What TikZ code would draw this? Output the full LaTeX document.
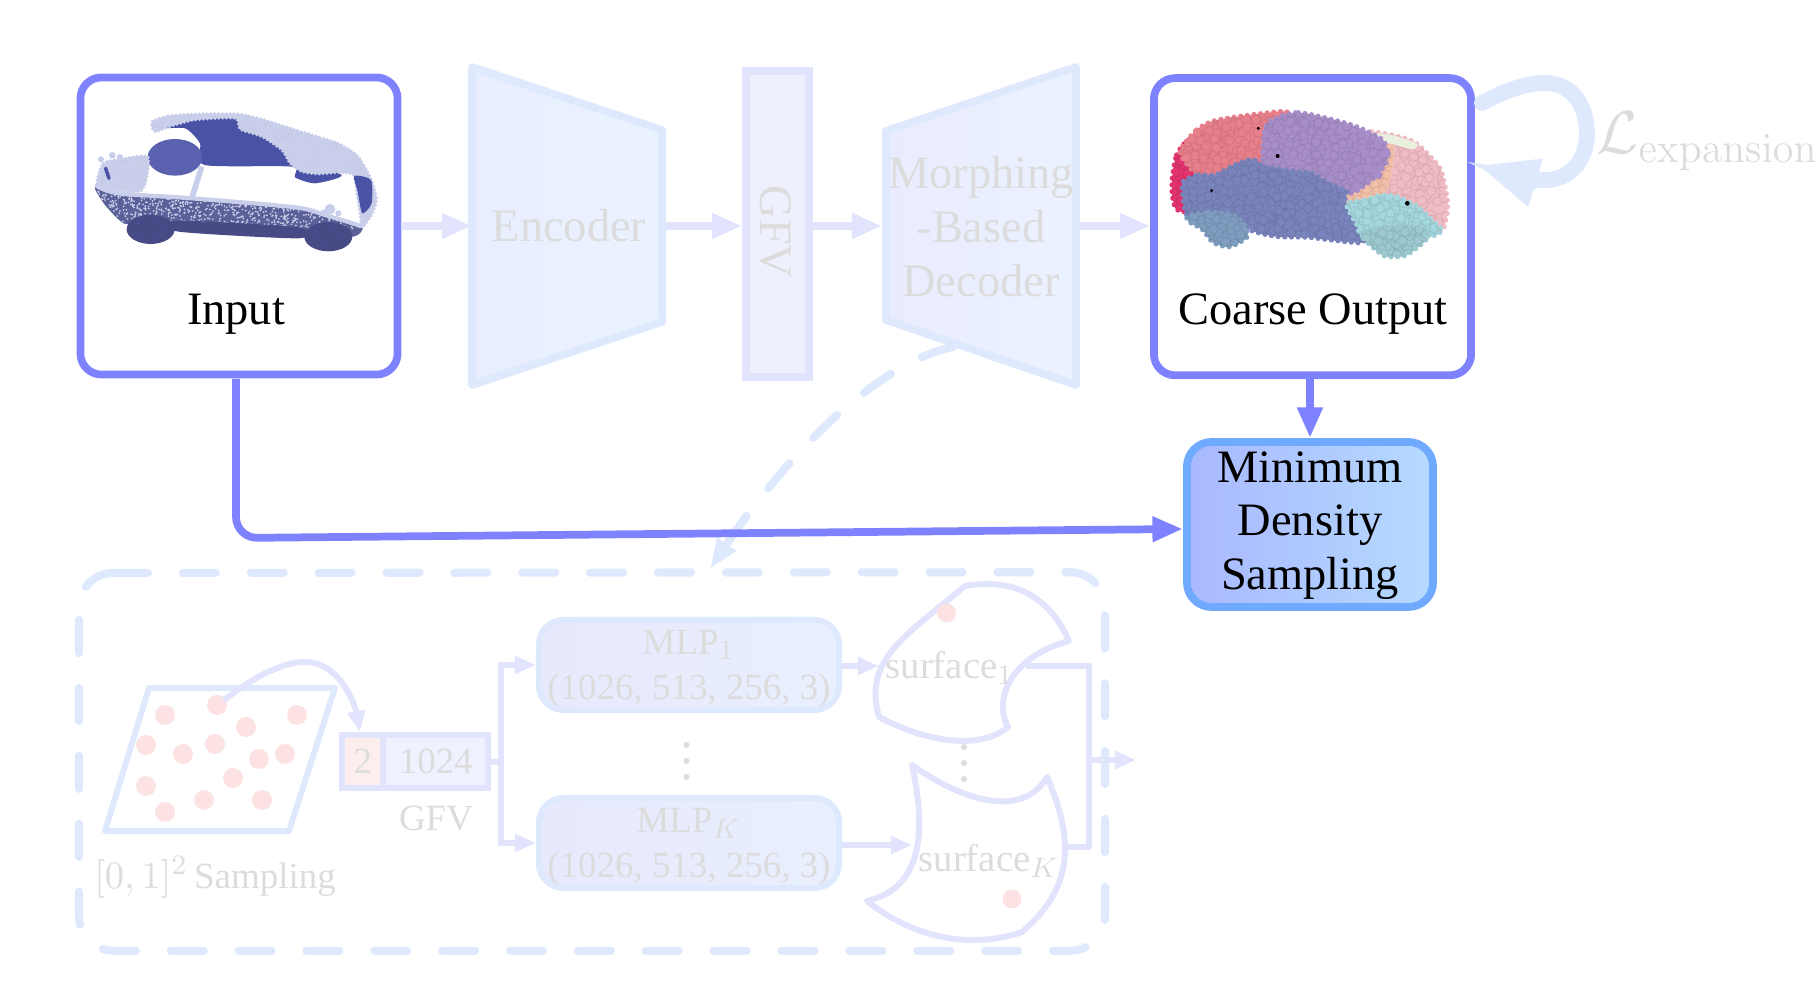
\documentclass[tikz,border=0pt]{standalone}
\usepackage{amsmath}
\usepackage{amsfonts}
\usepackage[no-math]{fontspec}
\setmainfont{Liberation Serif}
\usetikzlibrary{arrows.meta,positioning}
\DeclareMathSizes{10.5}{10.5}{8}{6}

\definecolor{boxBlue}{HTML}{7F82FF}
\definecolor{paleBlue}{HTML}{DFE9FD}
\definecolor{paleViolet}{HTML}{E2E3FC}
\definecolor{fadedText}{HTML}{DCDCDC}
\definecolor{dotPink}{HTML}{FCE2E2}
\definecolor{encoderFill}{HTML}{E8EEFE}
\definecolor{decoderFill}{HTML}{E9ECFE}
\definecolor{netRight}{HTML}{EBF2FF}
\definecolor{carLight}{HTML}{C9CEEA}
\definecolor{carBlue}{HTML}{4A52A6}
\definecolor{carSeat}{HTML}{5A62B0}
\definecolor{carBody}{HTML}{5C6098}
\definecolor{carDark}{HTML}{474A84}
\definecolor{partCrimson}{HTML}{E2336F}
\definecolor{partSalmon}{HTML}{E8808B}
\definecolor{partPurple}{HTML}{A88EC8}
\definecolor{partPink}{HTML}{F0BCC4}
\definecolor{partPeach}{HTML}{F2BFA8}
\definecolor{partGreen}{HTML}{E9F0DE}
\definecolor{partSlate}{HTML}{7A84BC}
\definecolor{partSteel}{HTML}{7F9DBF}
\definecolor{partCyan}{HTML}{A5D7DE}
\definecolor{partTeal}{HTML}{9CC8CF}
\definecolor{samplingEdge}{HTML}{6FAAFF}
\definecolor{samplingLeft}{HTML}{A9B8FF}
\definecolor{samplingRight}{HTML}{B5DAFF}

\tikzset{
    bigText/.style={font=\fontsize{13.2}{15.3}\selectfont},
    smallText/.style={font=\fontsize{10.5}{12.8}\selectfont},
    mainBox/.style={draw=boxBlue, line width=2.2pt, fill=white, rounded corners=6pt, inner sep=0pt, minimum width=3.17cm, minimum height=2.97cm},
    mainArrow/.style={draw=boxBlue, line width=2.2pt, -{Triangle[length=8.7pt,width=6.8pt]}},
    softArrow/.style={draw=paleViolet, line width=2.2pt, -{Triangle[length=8.5pt,width=6.8pt]}},
    thinArrow/.style={draw=paleViolet, line width=1.7pt, -{Triangle[length=6pt,width=4.9pt]}},
    thinLine/.style={draw=paleViolet, line width=1.7pt},
    netShape/.style={draw=paleBlue, line width=2.2pt, line join=round, left color=#1, right color=netRight},
    mlpBox/.style={draw=paleBlue, line width=1.7pt, left color=paleViolet!80!white, right color=paleBlue!70!white, rounded corners=7pt, text=fadedText, smallText, align=center, inner sep=0pt, minimum width=3cm, minimum height=0.9cm},
    surfaceLine/.style={draw=paleViolet, line width=1.7pt, line join=round},
    cell/.style={draw=paleViolet, line width=1.7pt, text=fadedText, smallText, inner sep=0pt, minimum height=0.53cm},
    sampleDot/.style={fill=dotPink},
    softDash/.style={draw=paleBlue, line width=2.3pt, line cap=round, dash pattern=on 9.4pt off 9.9pt},
}

% one coloured patch of a point cloud: colour, outline, box of the points
\def\bubbleR{13}
\def\bubbleN{60}
\def\bubbleEdge{88}
\def\beadW{1.8pt}
\def\beadGap{2.2pt}
\newcommand{\carPatch}[6]{
    \fill[#1] plot[smooth cycle, tension=0.4] coordinates {#2};
    \draw[#1, line width=\beadW, line cap=round, dash pattern=on 0pt off \beadGap] plot[smooth cycle, tension=0.4] coordinates {#2};
    \begin{scope}
        \clip plot[smooth cycle, tension=0.4] coordinates {#2};
        \foreach \n in {1,...,\bubbleN} {
            \draw[#1!\bubbleEdge!black, fill=#1, line width=0.2pt] ({#3+rnd*(#5-#3)},{#4+rnd*(#6-#4)}) circle (\bubbleR);
        }
    \end{scope}
}

\begin{document}
\begin{tikzpicture}[x=0.01cm,y=-0.01cm]

    \pgfmathsetseed{7}
    \useasboundingbox (0,0) rectangle (1820,1004);

    %%%% Upper row (faded part)

    % Encoder
    \draw[netShape=encoderFill] (472,67) -- (662,130) -- (662,322) -- (472,385) -- cycle;
    \coordinate (encoderIn) at (472,226);
    \coordinate (encoderOut) at (666,226);
    \node[bigText, text=fadedText] (encoderLabel) at (569,226) {Encoder};

    % GFV bar
    \node[draw=paleViolet, line width=2.2pt, fill=paleViolet!55!white, minimum width=0.63cm, minimum height=3.06cm, inner sep=0pt] (gfvBar) at (777.5,224) {};
    \node[bigText, text=fadedText, rotate=-90] (gfvLabel) at (776,232) {GFV};

    % Decoder
    \draw[netShape=decoderFill] (886,131) -- (1076,67) -- (1076,385) -- (886,320) -- cycle;
    \coordinate (decoderIn) at (882,226);
    \coordinate (decoderOut) at (1080,226);
    \coordinate (decoderFoot) at (953,347);
    \node[bigText, text=fadedText, align=center] (decoderLabel) at (981,226.5) {Morphing\\-Based\\Decoder};

    %%%% Input and coarse output boxes
    \node[mainBox] (inputBox) at (239,226) {};
    \node[mainBox] (coarseBox) at (1312.5,226.7) {};
    \node[bigText] (inputLabel) at (236,314) {Input};
    \node[bigText] (coarseLabel) at (1313,314.5) {Coarse Output};

    % Faded arrows of the row
    \draw[softArrow] (inputBox.east |- encoderIn) -- (encoderIn);
    \draw[softArrow] (encoderOut) -- (gfvBar.west |- encoderOut);
    \draw[softArrow] (gfvBar.east |- decoderIn) -- (decoderIn);
    \draw[softArrow] (decoderOut) -- (coarseBox.west |- decoderOut);

    % Input car
    \begin{scope}[shift={(85,100)},scale=0.3333]
        \fill[carBlue] plot[smooth cycle, tension=0.4] coordinates {(210,85) (300,85) (345,130) (358,195) (620,200) (630,232) (690,250) (770,225) (640,170) (460,60) (330,45) (215,60)};
        \fill[carSeat] (270,172) ellipse (82 and 55);
        \def\bubbleR{9}
        \def\bubbleN{120}
        \def\bubbleEdge{98}
        \def\beadW{0.9pt}
        \def\beadGap{1.1pt}
        \carPatch{carLight}{(200,65) (250,48) (330,42) (460,42) (540,60) (640,92) (760,130) (820,170) (860,240) (875,300) (860,345) (830,385) (826,350) (815,280) (805,225) (760,218) (700,222) (650,215) (615,190) (590,150) (530,110) (465,88) (450,55) (330,60) (260,78) (210,95)}{195}{35}{875}{385}
        \fill[carBlue] plot[smooth cycle, tension=0.4] coordinates {(808,228) (858,240) (860,310) (832,340) (818,275)};
        \def\bubbleN{30}
        \carPatch{carLight}{(35,250) (55,190) (120,175) (190,172) (170,272) (60,265)}{30}{165}{195}{280}
        \fill[carLight] (48,178) circle (9) (82,166) circle (10) (105,172) circle (10) (68,190) circle (9) (92,190) circle (9);
        \draw[carBlue, line width=1pt, line cap=round] (62,205) -- (72,235);
        \draw[carLight, line width=1.6pt] (350,200) -- (322,290);
        \fill[carBody] plot[smooth cycle, tension=0.4] coordinates {(30,262) (100,280) (320,295) (630,320) (720,345) (830,378) (805,410) (650,395) (270,382) (170,372) (115,370) (60,315)};
        \begin{scope}
            \clip plot[smooth cycle, tension=0.4] coordinates {(30,262) (100,280) (320,295) (630,320) (720,345) (830,378) (805,410) (650,395) (270,382) (170,372) (115,370) (60,315)};
            \foreach \n in {1,...,1100} {
                \fill[carLight] ({30+rnd*800},{262+rnd*130}) circle (3);
            }
        \end{scope}
        \draw[carLight, line width=1.2pt, line cap=round] plot[smooth] coordinates {(35,258) (100,280) (320,295) (630,322) (720,345) (828,378)};
        \fill[carLight] (735,328) circle (16) (715,338) circle (9) (760,340) circle (9);
        \fill[carDark] plot[smooth cycle, tension=0.4] coordinates {(275,362) (640,382) (642,415) (280,395)};
        \fill[carDark] (197,388) ellipse (72 and 44);
        \fill[carDark] (730,410) ellipse (72 and 44);
        \foreach \wx/\wy in {160/370,205/365,240/390,205/412,170/400,700/420,728/437,770/410,735/392,695/395} {
            \fill[carBlue] (\wx,\wy) circle (4);
        }
    \end{scope}

    % Coarse output car
    \begin{scope}[shift={(1165,100)},scale=0.3333]
        \def\bubbleR{14}
        \def\bubbleEdge{90}
        \def\beadW{1.5pt}
        \def\beadGap{1.9pt}
        \def\bubbleN{70}
        \carPatch{partCrimson}{(22,235) (35,165) (70,120) (120,120) (110,210) (90,250) (85,295) (60,335) (32,325) (22,285)}{20}{110}{120}{340}
        \def\bubbleN{240}
        \carPatch{partSalmon}{(45,155) (95,90) (150,62) (280,42) (370,38) (350,120) (320,230) (250,250) (190,250) (130,240) (85,215)}{40}{35}{375}{250}
        \carPatch{partPink}{(610,95) (680,105) (750,128) (825,205) (848,310) (835,385) (790,410) (720,350) (620,320) (540,320) (560,262) (625,235) (650,170) (640,120)}{535}{90}{850}{410}
        \def\bubbleN{70}
        \carPatch{partPeach}{(570,130) (680,140) (670,240) (640,300) (545,310) (560,250)}{540}{125}{685}{315}
        \fill[partGreen] plot[smooth cycle, tension=0.4] coordinates {(610,98) (680,105) (755,130) (745,148) (680,132) (640,122)};
        \def\bubbleN{300}
        \carPatch{partPurple}{(312,65) (400,38) (560,75) (655,122) (665,185) (625,235) (565,278) (500,280) (400,260) (300,230) (295,115)}{285}{35}{675}{285}
        \foreach \bx/\by in {640/125,665/160,610/205,640/225,585/235,600/160,575/260} {
            \fill[partPurple] (\bx,\by) circle (13);
        }
        \def\bubbleN{420}
        \carPatch{partSlate}{(55,245) (100,225) (150,225) (215,192) (265,178) (300,200) (400,215) (440,220) (500,255) (545,272) (540,300) (560,340) (580,385) (592,428) (430,412) (340,410) (260,392) (215,350) (130,345) (70,352) (55,300)}{50}{175}{600}{430}
        \def\bubbleN{120}
        \carPatch{partSteel}{(68,348) (130,338) (205,345) (242,380) (245,412) (195,440) (145,428) (112,388) (72,365)}{65}{335}{250}{445}
        \def\bubbleN{190}
        \carPatch{partCyan}{(545,312) (600,300) (650,285) (700,292) (760,322) (800,360) (832,392) (790,412) (770,400) (600,410) (575,372)}{540}{280}{835}{415}
        \def\bubbleN{140}
        \carPatch{partTeal}{(588,402) (640,385) (720,378) (782,385) (782,420) (722,466) (660,468) (612,432)}{585}{375}{785}{470}
        \fill[black] (727,310) circle (7) (338,168) circle (6) (280,85) circle (5) (140,272) circle (5);
    \end{scope}

    %%%% Lower part (faded part)

    % Dashed arrow from the decoder to the patch box
    \coordinate (patchTop) at (710,569);
    \draw[softDash, -{Triangle[length=8.5pt,width=6pt]}] (decoderFoot) .. controls (880,362) and (790,450) .. (patchTop);

    % Dashed box
    \node[minimum width=10.24cm, minimum height=3.77cm, inner sep=0pt] (patchBox) at (592,761.5) {};
    \coordinate (patchStart) at (115,573);
    \draw[softDash, rounded corners=10pt] (patchStart) -- (patchBox.north east) -- (patchBox.south east) -- (patchBox.south west) -- (patchBox.north west) -- (patchStart);

    % Square of samples
    \draw[draw=paleBlue, line width=1.7pt, line join=round] (149,688) -- (335,688) -- (289,831) -- (105,831) -- cycle;
    \foreach \dx/\dy in {165/715,217/705,246/727,297/715,146/745,183/754,215/744,259/759,285/754,233/778,146/786,204/800,262/800,165/812} {
        \fill[sampleDot] (\dx,\dy) circle (10);
    }
    \node[smallText, text=fadedText] (samplingLabel) at (215,877) {$[0,1]^2$\,Sampling};

    % GFV cells
    \node[cell, fill=dotPink!60!white, minimum width=0.415cm] (cellTwo) at (362.75,761.5) {2};
    \node[cell, fill=paleViolet!50!white, minimum width=1.045cm] (cellGfv) at (435.75,761.5) {1024};
    \node[smallText, text=fadedText] (cellLabel) at (436,819) {GFV};
    \coordinate (sampleStart) at (224,700);
    \coordinate (sampleEnd) at (360,732);
    \draw[thinArrow] (sampleStart) .. controls (250,680) and (280,662) .. (305,662) .. controls (340,662) and (355,705) .. (sampleEnd);

    % MLPs
    \node[mlpBox] (mlpOne) at (689,665) {};
    \node[mlpBox] (mlpK) at (689,843) {};
    \node[smallText, text=fadedText, align=center] (mlpOneLabel) at (689,668.5) {MLP$_1$\\(1026, 513, 256, 3)};
    \node[smallText, text=fadedText, align=center] (mlpKLabel) at (689,846.5) {MLP$_K$\\(1026, 513, 256, 3)};
    \coordinate (gfvJoint) at (501,762);
    \draw[thinLine] (cellGfv.east) -- (gfvJoint);
    \draw[thinArrow] (gfvJoint) |- (mlpOne.west);
    \draw[thinArrow] (gfvJoint) |- (mlpK.west);
    \foreach \vy in {745,761,777} {
        \fill[fadedText] (686.5,\vy) circle (3);
        \fill[fadedText] (964,\vy+2) circle (3);
    }

    % Surfaces
    \draw[surfaceLine] (965,586) .. controls (1018,577) and (1051,600) .. (1069,641) .. controls (1010,657) and (993,700) .. (1008,727) .. controls (981,750) and (928,743) .. (879,717) .. controls (863,660) and (904,637) .. (965,586) -- cycle;
    \draw[surfaceLine] (912,765) .. controls (961,800) and (1022,820) .. (1047,777) .. controls (1079,850) and (1067,893) .. (1022,932) .. controls (969,950) and (912,937) .. (867,901) .. controls (928,887) and (924,820) .. (912,765) -- cycle;
    \fill[sampleDot] (946.5,613) circle (9.5);
    \fill[sampleDot] (1012,899) circle (9.5);
    \node[text=fadedText, anchor=west, inner sep=0pt, font=\fontsize{11}{13}\selectfont] (surfaceOne) at (885,668) {surface$_1$};
    \node[text=fadedText, anchor=west, inner sep=0pt, font=\fontsize{11}{13}\selectfont] (surfaceK) at (918,861) {surface$_K$};
    \coordinate (surfaceOneIn) at (879,666);
    \coordinate (surfaceKIn) at (912,845);
    \coordinate (surfaceOneOut) at (1026,666);
    \coordinate (surfaceKOut) at (1067,847);
    \coordinate (mergeTop) at (1089,666);
    \coordinate (mergeBottom) at (1089,847);
    \coordinate (mergeMid) at (1089,760);
    \coordinate (patchOut) at (1136,760);
    \draw[thinArrow] (mlpOne.east |- surfaceOneIn) -- (surfaceOneIn);
    \draw[thinArrow] (mlpK.east |- surfaceKIn) -- (surfaceKIn);
    \draw[thinLine, line join=round] (surfaceOneOut) -- (mergeTop) -- (mergeBottom) -- (surfaceKOut);
    \draw[thinArrow] (mergeMid) -- (patchOut);

    % Expansion loss
    \coordinate (lossStart) at (1482,103);
    \coordinate (lossEnd) at (1477,165);
    \draw[draw=paleBlue, line width=4.5pt, line cap=round, -{Triangle[length=17.4pt,width=12.9pt]}] (lossStart) .. controls (1510,88) and (1530,83) .. (1545,83) .. controls (1575,83) and (1587,110) .. (1587,133) .. controls (1587,160) and (1570,180) .. (1545,180) .. controls (1525,180) and (1500,172) .. (lossEnd);
    \node[text=fadedText, anchor=west, inner sep=0pt, font=\fontsize{17}{20}\selectfont] (lossLabel) at (1596,141) {$\mathcal{L}_{\mathrm{expansion}}$};

    %%%% Main path
    \node[draw=samplingEdge, line width=2.2pt, left color=samplingLeft, right color=samplingRight, rounded corners=7pt, inner sep=0pt, minimum width=2.46cm, minimum height=1.65cm] (samplingBox) at (1310,524.5) {};
    \node[bigText, align=center] (samplingText) at (1310,525.5) {Minimum\\Density\\Sampling};
    \coordinate (inputOut) at (236,379);
    \coordinate (inputCorner) at (236,538);
    \coordinate (samplingIn) at (1183,529);
    \draw[mainArrow, rounded corners=6pt] (inputOut) -- (inputCorner) -- (samplingIn);
    \draw[mainArrow] (coarseBox.south -| samplingBox.north) -- (samplingBox.north);

\end{tikzpicture}
\end{document}
